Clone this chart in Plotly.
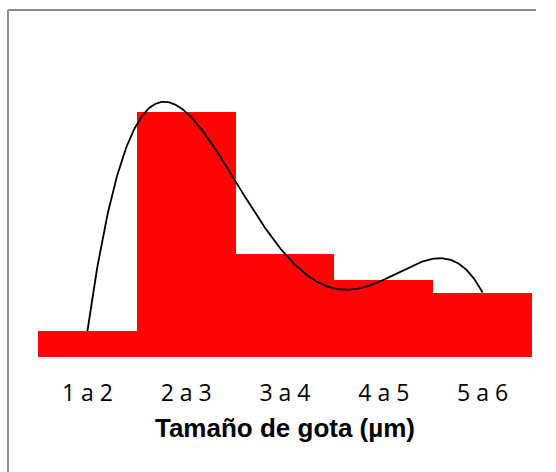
import numpy as np
import plotly.graph_objects as go

# Data
categories = ["1 a 2", "2 a 3", "3 a 4", "4 a 5", "5 a 6"]
positions = [1, 2, 3, 4, 5]
values = [5.0, 47.5, 20.0, 15.0, 12.5]
x_title = "Tamaño de gota (µm)"

# Polynomial trendline (order 4) fitted to the bar values, as in the original chart
coef = np.polyfit(positions, values, 4)
xt = np.linspace(positions[0], positions[-1], 300)
yt = np.polyval(coef, xt)

W, H = 556, 472
ml, mr, mt, mb = 38, 24, 48, 115
pw, ph = W - ml - mr, H - mt - mb

fig = go.Figure()
fig.add_trace(go.Bar(
    x=positions, y=values, width=1.0,
    marker=dict(color="#ff0404", line=dict(width=0)),
    showlegend=False, hoverinfo="skip",
))
fig.add_trace(go.Scatter(
    x=xt, y=yt, mode="lines",
    line=dict(color="#000000", width=1.8),
    showlegend=False, hoverinfo="skip",
))

# chart frame (only left and top edges visible in the picture)
fx0 = (8 - ml) / pw
fy1 = (H - mb - 10) / ph
fy0 = (H - mb - H) / ph
fx1 = (W - 20 - ml) / pw
frame = dict(color="#8c8c8c", width=2)
fig.add_shape(type="line", xref="paper", yref="paper",
              x0=fx0, x1=fx0, y0=fy0, y1=fy1, line=frame, layer="below")
fig.add_shape(type="line", xref="paper", yref="paper",
              x0=fx0, x1=fx1, y0=fy1, y1=fy1, line=frame, layer="below")

fig.update_layout(
    width=W, height=H,
    margin=dict(l=ml, r=mr, t=mt, b=mb),
    paper_bgcolor="white", plot_bgcolor="white",
    bargap=0,
    xaxis=dict(
        range=[0.5, 5.5], tickmode="array", tickvals=positions, ticktext=categories,
        showgrid=False, zeroline=False, showline=False, ticks="",
        tickfont=dict(family="Open Sans", size=23, color="#000000"),
        ticklabelstandoff=20,
        title=dict(text="<b>" + x_title + "</b>",
                   font=dict(family="Liberation Sans, Arial", size=26, color="#000000"),
                   standoff=11),
    ),
    yaxis=dict(range=[0, 60], visible=False, showgrid=False, zeroline=False),
)

fig.write_html(
    "out.html",
    config={"displayModeBar": False},
    post_script="document.body.style.margin='0';document.body.style.overflow='hidden';"
                "document.documentElement.style.overflow='hidden';",
)
